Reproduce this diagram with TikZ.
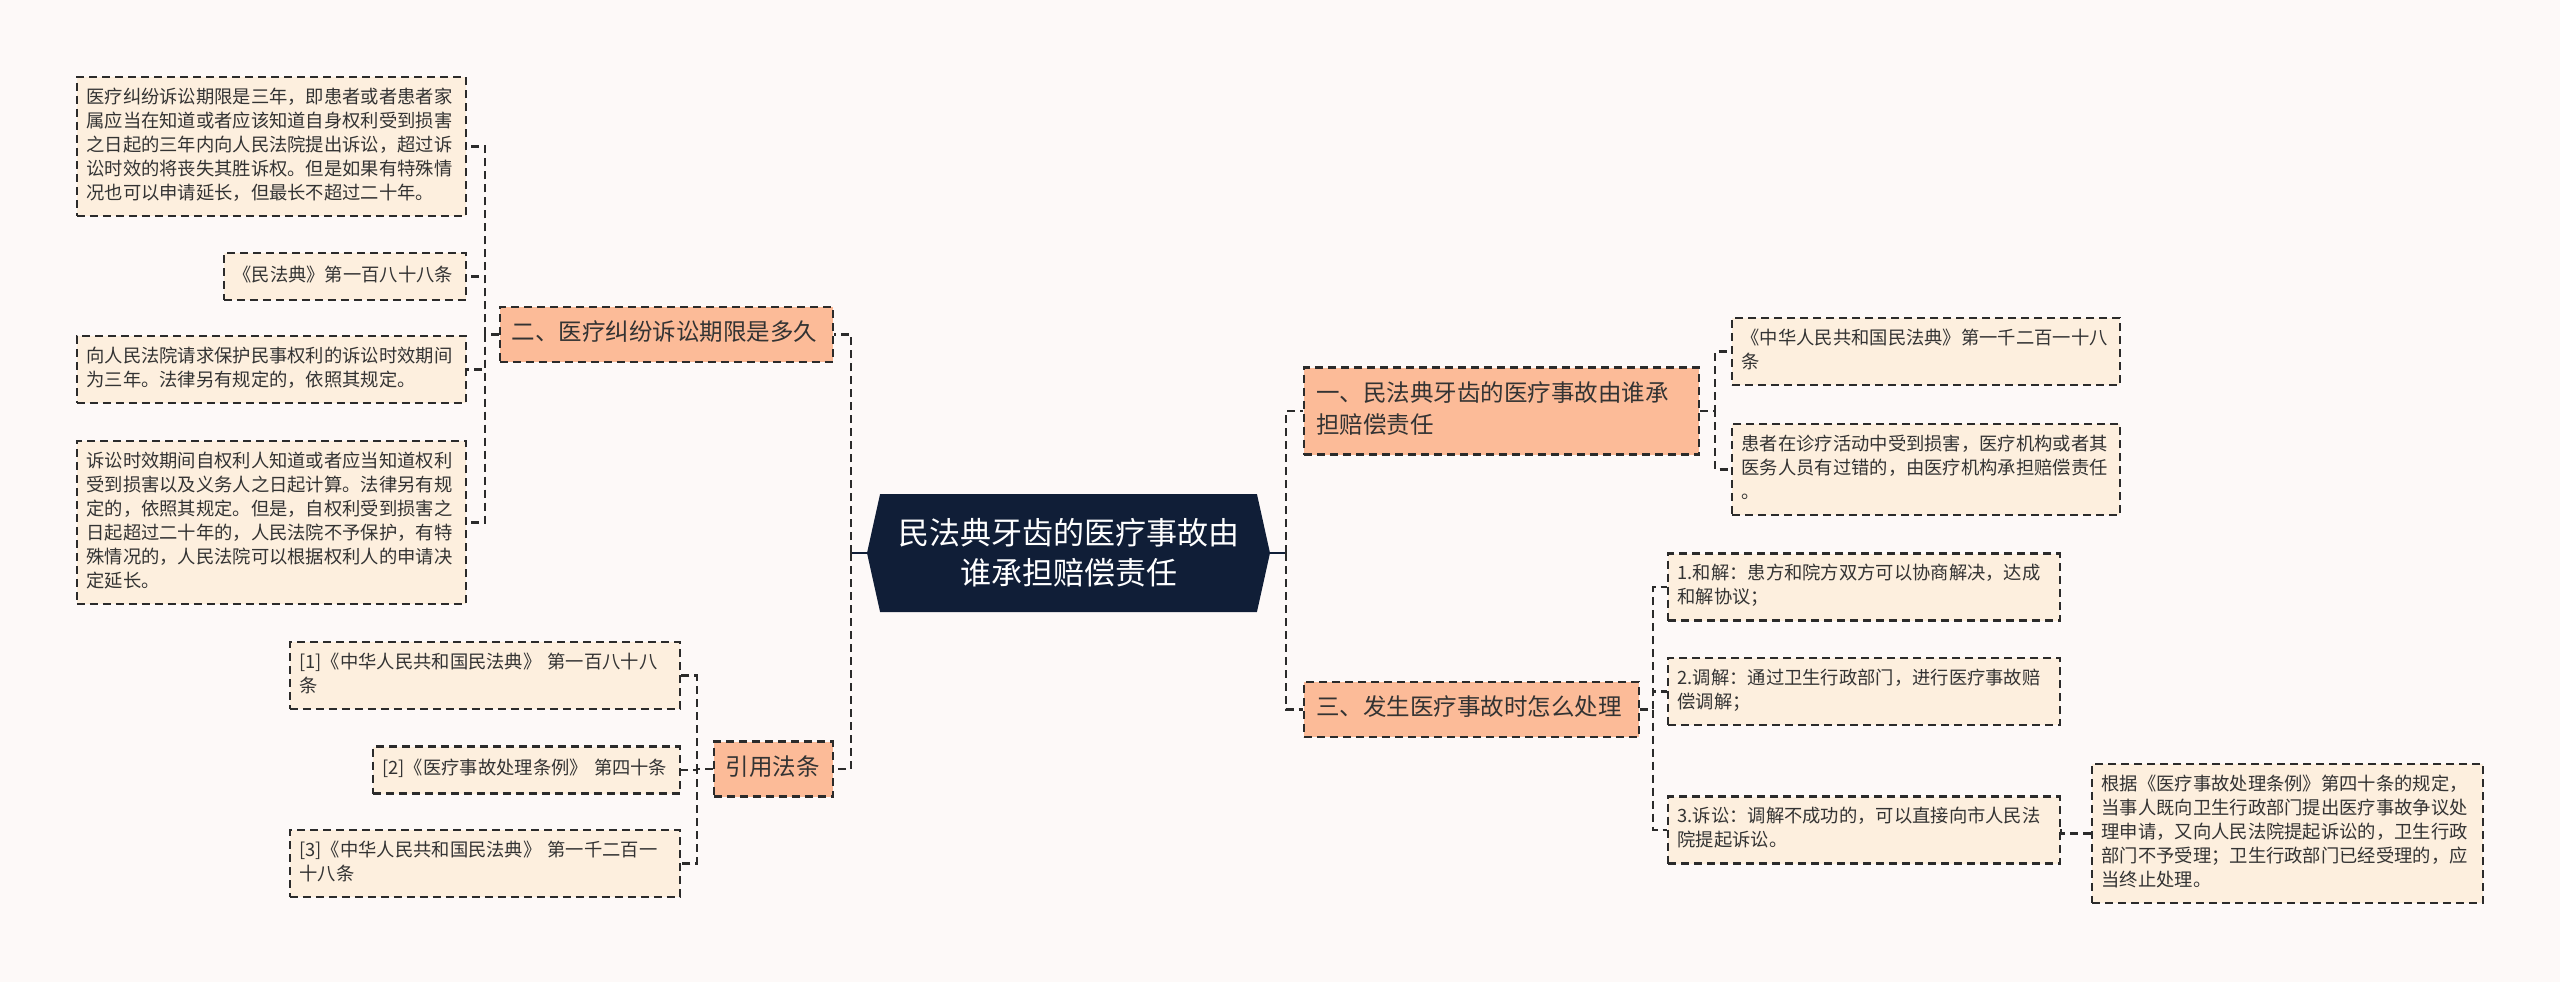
\documentclass[tikz,border=0pt]{standalone}
\usepackage{fontspec}
\setmainfont{Noto Sans CJK SC}
\usetikzlibrary{shapes.symbols}

\definecolor{fondo}{HTML}{FDF9F8}
\definecolor{marino}{HTML}{101E37}
\definecolor{salmon}{HTML}{FCBB98}
\definecolor{crema}{HTML}{FDEFDE}
\definecolor{trazo}{HTML}{2B2B2B}
\definecolor{texto}{HTML}{333333}

\begin{document}
\begin{tikzpicture}[
    x=1pt,
    y=-1pt,
    centro/.style={shape=signal, signal to=west and east, signal pointer angle=155,
        fill=marino, text=white, align=center, inner sep=0pt,
        minimum width=403pt, minimum height=118pt,
        font=\fontsize{31}{40}\selectfont},
    rama/.style={draw=trazo, fill=salmon, text=texto, line width=2.2pt,
        dash pattern=on 8pt off 5pt, align=left, text width=#1,
        inner xsep=12pt, inner ysep=11.5pt,
        font=\fontsize{23.5}{32}\selectfont,
        execute at begin node=\strut, execute at end node=\strut},
    hoja/.style={rama=#1, fill=crema, inner xsep=9.5pt, inner ysep=9.5pt,
        minimum height=47pt, font=\fontsize{18.3}{24}\selectfont},
    enlace/.style={draw=trazo, line width=2.2pt, dash pattern=on 8pt off 5pt},
    tallo/.style={draw=marino, line width=2.5pt}
]
\useasboundingbox (0,0) rectangle (2560,982);
\fill[fondo] (0,0) rectangle (2560,982);

% Centro
\node[centro] (raiz) at (1068.5,553) {民法典牙齿的医疗事故由\\谁承担赔偿责任};

% Ramas izquierda
\node[rama=309pt, anchor=east] (dos) at (834,334.5) {二、医疗纠纷诉讼期限是多久};
\node[rama=95pt, anchor=east] (ley) at (834,769) {引用法条};

\node[hoja=370pt, anchor=east] (d1) at (467,146.5)
    {医疗纠纷诉讼期限是三年，即患者或者患者家\\属应当在知道或者应该知道自身权利受到损害\\之日起的三年内向人民法院提出诉讼，超过诉\\讼时效的将丧失其胜诉权。但是如果有特殊情\\况也可以申请延长，但最长不超过二十年。};
\node[hoja=223pt, anchor=east] (d2) at (467,276.5) {《民法典》第一百八十八条};
\node[hoja=370pt, anchor=east] (d3) at (467,369.5)
    {向人民法院请求保护民事权利的诉讼时效期间\\为三年。法律另有规定的，依照其规定。};
\node[hoja=370pt, anchor=east] (d4) at (467,522.5)
    {诉讼时效期间自权利人知道或者应当知道权利\\受到损害以及义务人之日起计算。法律另有规\\定的，依照其规定。但是，自权利受到损害之\\日起超过二十年的，人民法院不予保护，有特\\殊情况的，人民法院可以根据权利人的申请决\\定延长。};

\node[hoja=371pt, anchor=east] (l1) at (681,675.5) {[1]《中华人民共和国民法典》 第一百八十八\\条};
\node[hoja=288pt, anchor=east] (l2) at (681,770) {[2]《医疗事故处理条例》 第四十条};
\node[hoja=371pt, anchor=east] (l3) at (681,863.5) {[3]《中华人民共和国民法典》 第一千二百一\\十八条};

% Ramas derecha
\node[rama=371pt, anchor=west] (uno) at (1303,411) {一、民法典牙齿的医疗事故由谁承\\担赔偿责任};
\node[rama=311pt, anchor=west] (tres) at (1303,709.5) {三、发生医疗事故时怎么处理};

\node[hoja=369pt, anchor=west] (u1) at (1731,351.5) {《中华人民共和国民法典》第一千二百一十八\\条};
\node[hoja=369pt, anchor=west] (u2) at (1731,469.5)
    {患者在诊疗活动中受到损害，医疗机构或者其\\医务人员有过错的，由医疗机构承担赔偿责任\\。};

\node[hoja=373pt, anchor=west] (t1) at (1667,587) {1.和解：患方和院方双方可以协商解决，达成\\和解协议；};
\node[hoja=373pt, anchor=west] (t2) at (1667,691.5) {2.调解：通过卫生行政部门，进行医疗事故赔\\偿调解；};
\node[hoja=373pt, anchor=west] (t3) at (1667,830) {3.诉讼：调解不成功的，可以直接向市人民法\\院提起诉讼。};
\node[hoja=372pt, anchor=west] (t4) at (2091,833.5)
    {根据《医疗事故处理条例》第四十条的规定，\\当事人既向卫生行政部门提出医疗事故争议处\\理申请，又向人民法院提起诉讼的，卫生行政\\部门不予受理；卫生行政部门已经受理的，应\\当终止处理。};

% Troncos
\coordinate (tI) at (851,0);
\coordinate (tD) at (1286,0);
\coordinate (tdos) at (485,0);
\coordinate (tley) at (697,0);
\coordinate (tuno) at (1715,0);
\coordinate (ttres) at (1653,0);
\coordinate (tt3) at (2061,0);

% Conexiones
\draw[tallo] (raiz.west) -- (raiz.west -| tI);
\draw[tallo] (raiz.east) -- (raiz.east -| tD);
\foreach \n in {dos,ley}
    \draw[enlace] (raiz.west -| tI) |- (\n.east);
\foreach \n in {uno,tres}
    \draw[enlace] (raiz.east -| tD) |- (\n.west);
\foreach \n in {d1,d2,d3,d4}
    \draw[enlace] (dos.west) -- (dos.west -| tdos) |- (\n.east);
\foreach \n in {l1,l2,l3}
    \draw[enlace] (ley.west) -- (ley.west -| tley) |- (\n.east);
\foreach \n in {u1,u2}
    \draw[enlace] (uno.east) -- (uno.east -| tuno) |- (\n.west);
\foreach \n in {t1,t2,t3}
    \draw[enlace] (tres.east) -- (tres.east -| ttres) |- (\n.west);
\draw[enlace] (t3.east) -- (t3.east -| tt3) |- (t4.west);

\end{tikzpicture}
\end{document}
